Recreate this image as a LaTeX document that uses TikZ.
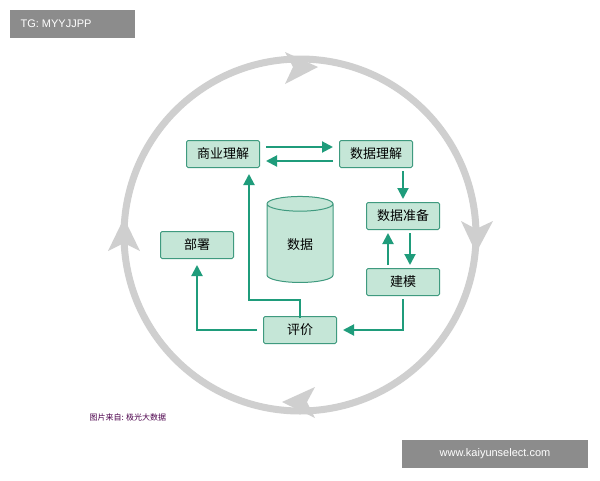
\documentclass[tikz,border=0pt]{standalone}
\usepackage{fontspec}
\setmainfont{Liberation Sans}
\newfontfamily\cjk{Noto Sans CJK SC}
\usetikzlibrary{arrows.meta,shapes.geometric}
\definecolor{boxfill}{HTML}{C5E6D7}
\definecolor{boxline}{HTML}{3F9A7F}
\definecolor{arr}{HTML}{1F9C7B}
\definecolor{ring}{HTML}{CFCFCF}
\tikzset{
 stepbox/.style={draw=boxline,fill=boxfill,line width=1pt,rounded corners=1.5pt,minimum width=73pt,minimum height=27pt,font=\cjk\fontsize{13}{13}\selectfont},
 flow/.style={draw=arr,line width=2pt,-{Triangle[length=11pt,width=11pt]}},
}
\begin{document}
\begin{tikzpicture}[x=1pt,y=-1pt]
\useasboundingbox (0,0) rectangle (600,480);
\fill[white] (0,0) rectangle (600,480);
% ring
\draw[ring,line width=7pt] (300,235) circle (176);
\fill[ring] (285,52) -- (318,67) -- (285,84) -- (293,67) -- cycle;
\fill[ring] (461,221) -- (476,253) -- (493,221) -- (476,229) -- cycle;
\fill[ring] (315,387) -- (282,402) -- (315,418) -- (307,402) -- cycle;
\fill[ring] (108,251) -- (124,218) -- (140,251) -- (124,243) -- cycle;
% nodes
\node[stepbox] (sy) at (223,154) {商业理解};
\node[stepbox] (sj) at (376,154) {数据理解};
\node[stepbox] (zb) at (403,216) {数据准备};
\node[stepbox] (jm) at (403,282) {建模};
\node[stepbox] (pj) at (300,330) {评价};
\node[stepbox] (bs) at (197,245) {部署};
% cylinder
\node[cylinder,shape border rotate=90,draw=boxline,fill=boxfill,line width=1pt,minimum width=66pt,minimum height=86pt,aspect=0.45,font=\cjk\fontsize{13}{13}\selectfont] (db) at (300,245) {数据};
% arrows
\draw[flow] ([xshift=6pt,yshift=7pt]sy.east) -- ([xshift=-6pt,yshift=7pt]sj.west);
\draw[flow] ([xshift=-6pt,yshift=-7pt]sj.west) -- ([xshift=6pt,yshift=-7pt]sy.east);
\draw[flow] ([xshift=27pt,yshift=-3pt]sj.south) -- ([yshift=3pt]zb.north);
\draw[flow] ([xshift=-15pt,yshift=3pt]jm.north) -- ([xshift=-15pt,yshift=-3pt]zb.south);
\draw[flow] ([xshift=7pt,yshift=-3pt]zb.south) -- ([xshift=7pt,yshift=3pt]jm.north);
\draw[flow] ([yshift=-3pt]jm.south) |- ([xshift=6pt]pj.east);
\draw[flow] ([xshift=-6pt]pj.west) -| ([yshift=-6pt]bs.south);
\coordinate (t) at (249,300);
\draw[flow] ([yshift=-2pt]pj.north) |- (t) -- ([yshift=-6pt]sy.south -| t);
% labels
\fill[black!45] (10,10) rectangle (135,38);
\node[white,font=\fontsize{11}{11}\selectfont,anchor=west] (tg) at (17,24) {TG: MYYJJPP};
\fill[black!45] (402,440) rectangle (588,468);
\node[white,font=\fontsize{11}{11}\selectfont] (www) at (495,454) {www.kaiyunselect.com};
\node[anchor=west,text=violet!60!black,font=\cjk\fontsize{8}{8}\selectfont] (src) at (86,417) {图片来自: 极光大数据};
\end{tikzpicture}
\end{document}
